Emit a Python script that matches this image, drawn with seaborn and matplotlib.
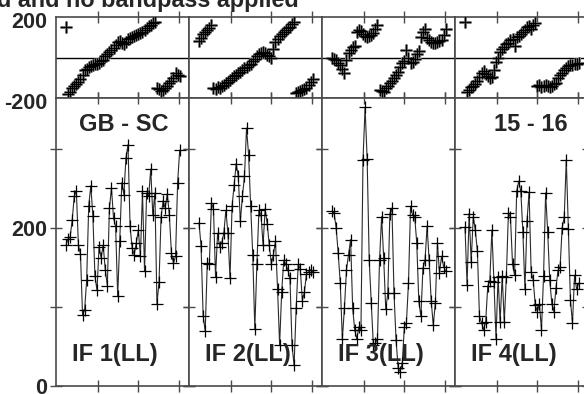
import numpy as np
import pandas as pd
import matplotlib
matplotlib.use("Agg")
import matplotlib.pyplot as plt
import matplotlib.transforms as mtransforms
import seaborn as sns

sns.set_style("white")
plt.rcParams['font.family'] = ['Liberation Sans', 'DejaVu Sans']

title_text = "d and no bandpass applied"
baseline_label = "GB - SC"
time_label = "15 - 16"
if_labels = ["IF 1(LL)", "IF 2(LL)", "IF 3(LL)", "IF 4(LL)"]

phase_ticks = [-200, 0, 200]
phase_ticklabels = ["-200", "", "200"]
amp_ticks = [0, 100, 200, 300]
amp_ticklabels = ["0", "", "200", ""]

amp_if1 = [178, 186, 188, 210, 240, 247, 178, 167, 90, 96, 134, 228, 253, 215, 139, 121,
           176, 162, 178, 147, 127, 225, 250, 212, 202, 114, 183, 257, 242, 288, 305, 202,
           174, 166, 181, 197, 164, 246, 145, 244, 240, 274, 216, 244, 104, 131, 214, 234,
           225, 243, 216, 168, 155, 164, 257, 298]
amp_if2 = [206, 177, 89, 69, 155, 154, 231, 224, 138, 193, 176, 181, 193, 222, 193, 136,
           227, 254, 281, 265, 208, 240, 265, 326, 292, 227, 166, 72, 154, 222, 216, 178,
           224, 205, 178, 154, 166, 183, 123, 52, 119, 159, 154, 147, 136, 52, 26, 98,
           154, 148, 108, 119, 142, 144, 147, 144]
amp_if3 = [221, 219, 200, 168, 130, 59, 98, 147, 166, 185, 98, 71, 59, 75, 71, 286,
           352, 287, 159, 105, 52, 54, 60, 159, 214, 162, 97, 117, 218, 225, 117, 58,
           23, 18, 29, 75, 80, 130, 227, 216, 214, 181, 107, 88, 149, 159, 202, 159,
           107, 77, 105, 181, 143, 164, 151, 145]
amp_if4 = [201, 128, 218, 157, 214, 197, 170, 88, 80, 71, 81, 126, 133, 197, 132, 60,
           138, 81, 139, 81, 138, 219, 213, 154, 140, 246, 259, 246, 195, 122, 209, 245,
           144, 134, 102, 94, 104, 71, 139, 244, 195, 134, 104, 94, 124, 146, 150, 200,
           213, 286, 199, 109, 79, 140, 122, 130]

phase_if1 = [153, -178, -170, -150, -143, -130, -120, -105, -88, -62, -55, -48, -40, -38, -33, -30,
             -25, -18, -10, 5, 18, 28, 38, 45, 62, 75, 80, 70, 65, 78, 90, 95,
             100, 105, 110, 115, 120, 128, 138, 148, 155, 162, 168, 175, -150, -158,
             -165, -160, -150, -140, -128, -118, -100, -75, -85, -90]
phase_if2 = [80, 95, 115, 125, 135, 145, 160, -150, -155, -148, -150, -140, -135, -128, -120, -110,
             -100, -92, -85, -78, -70, -60, -52, -45, -38, -30, -18, -5, 5, 15, 22, 28,
             20, 10, 5, 0, 40, 75, 90, 105, 115, 125, 135, 145, 152, 165,
             175, -175, -168, -165, -160, -155, -150, -135, -120, -105]
phase_if3 = [-2, -5, -12, -25, -35, -55, -75, -10, 20, 35, 50, 55, 125, 135, 130, 115,
             105, 100, 105, 110, 120, 140, 160, -160, -165, -168, -150, -140, -125, -115, -100, -88,
             -70, -45, -25, -15, 35, 0, -25, -20, -5, 15, 30, 100, 125, 140,
             95, 85, 75, 72, 70, 75, 80, 85, 110, 140]
phase_if4 = [175, -172, -160, -148, -140, -130, -118, -95, -78, -65, -80, -90, -100, -95, -60, -20,
             0, 25, 40, 50, 65, 72, 85, 90, 55, 100, 105, 118, 125, 135, 150, 155,
             140, 160, 170, -140, -135, -145, -142, -138, -140, -145, -140, -132, -125, -100,
             -85, -78, -60, -50, -42, -38, -35, -33, -30, -28]

amps = [amp_if1, amp_if2, amp_if3, amp_if4]
phases = [phase_if1, phase_if2, phase_if3, phase_if4]

W, H = 584, 394
fig = plt.figure(figsize=(W / 100, H / 100), dpi=100)

panel_left = [56, 189, 322, 455]
panel_w = 133
ph_top, ph_bot = 17, 98
am_top, am_bot = 98, 386

first_off, step = 10.0, 2.067
xlim = (-first_off / step, (panel_w - first_off) / step)
xticks = [(o - first_off) / step for o in (42, 82, 123)]

spine_col = "#4a4a4a"

def style_axes(ax):
    for s in ax.spines.values():
        s.set_color(spine_col)
        s.set_linewidth(1.2)
    ax.tick_params(direction="inout", length=9, width=1, color=spine_col,
                   top=True, bottom=True, left=True, right=True,
                   labelsize=15.5, pad=2)
    ax.set_xlabel("")
    ax.set_ylabel("")

for k in range(4):
    n = len(amps[k])
    df = pd.DataFrame({"t": np.arange(n), "amp": amps[k], "phase": phases[k]})
    L = panel_left[k]

    axp = fig.add_axes([L / W, (H - ph_bot) / H, panel_w / W, (ph_bot - ph_top) / H])
    axp.axhline(0, color="black", lw=1.0, zorder=1)
    sns.scatterplot(data=df, x="t", y="phase", marker="+", color="#8a8a8a",
                    s=80, linewidth=2.2, ax=axp, zorder=2, legend=False)
    sns.scatterplot(data=df, x="t", y="phase", marker="+", color="black",
                    s=80, linewidth=0.9, ax=axp, zorder=3, legend=False)
    axp.set_ylim(-200, 200)
    axp.set_xlim(*xlim)
    axp.set_xticks(xticks)
    axp.set_xticklabels([])
    axp.set_yticks(phase_ticks)
    style_axes(axp)
    axp.tick_params(axis="y", left=False, right=False)
    if k == 0:
        axp.set_yticklabels(phase_ticklabels, fontweight="bold")
        shift = mtransforms.ScaledTranslation(0, -3 / 100, fig.dpi_scale_trans)
        for lab in axp.get_yticklabels():
            lab.set_transform(lab.get_transform() + shift)
    else:
        axp.set_yticklabels([])

    axa = fig.add_axes([L / W, (H - am_bot) / H, panel_w / W, (am_bot - am_top) / H])
    sns.lineplot(data=df, x="t", y="amp", color="#2a2a2a", lw=0.8, estimator=None,
                 sort=False, marker="+", markersize=8, markeredgewidth=0.9,
                 markeredgecolor="black", ax=axa, legend=False)
    axa.set_ylim(0, 364)
    axa.set_xlim(*xlim)
    axa.set_xticks(xticks)
    axa.set_xticklabels([])
    axa.set_yticks(amp_ticks)
    style_axes(axa)
    if k == 0:
        axa.set_yticklabels(amp_ticklabels, fontweight="bold")
    else:
        axa.set_yticklabels([])
    axa.text(16 / panel_w, (am_bot - 355) / (am_bot - am_top), if_labels[k],
             transform=axa.transAxes, ha="left", va="center",
             fontsize=17, fontweight="bold")
    if k == 0:
        axa.text((124 - L) / panel_w, (am_bot - 124) / (am_bot - am_top), baseline_label,
                 transform=axa.transAxes, ha="center", va="center",
                 fontsize=17, fontweight="bold")
    if k == 3:
        axa.text((531 - L) / panel_w, (am_bot - 124) / (am_bot - am_top), time_label,
                 transform=axa.transAxes, ha="center", va="center",
                 fontsize=17, fontweight="bold")

fig.text(-3 / W, 1 - 7.5 / H, title_text, ha="left", va="baseline",
         fontsize=16.8, fontweight="bold")

fig.savefig("out.png", dpi=100)
